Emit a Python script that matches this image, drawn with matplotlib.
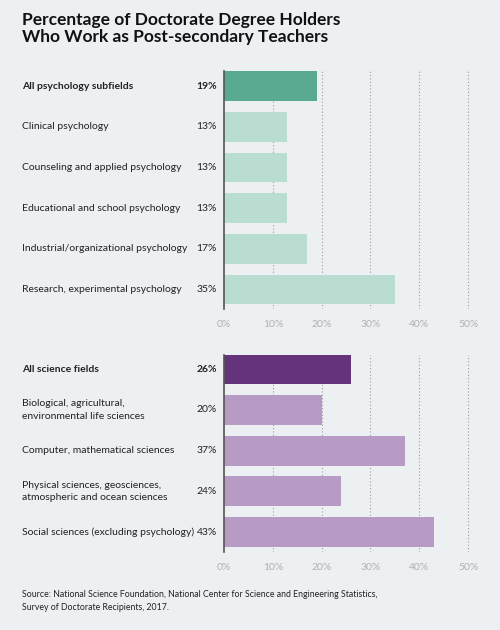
import matplotlib.pyplot as plt
import matplotlib.transforms as mtransforms

plt.rcParams['font.family'] = ['Lato', 'DejaVu Sans']

# data
psy_labels = ['All psychology subfields', 'Clinical psychology',
              'Counseling and applied psychology', 'Educational and school psychology',
              'Industrial/organizational psychology', 'Research, experimental psychology']
psy_values = [19, 13, 13, 13, 17, 35]

sci_labels = ['All science fields', 'Biological, agricultural,\nenvironmental life sciences',
              'Computer, mathematical sciences',
              'Physical sciences, geosciences,\natmospheric and ocean sciences',
              'Social sciences (excluding psychology)']
sci_values = [26, 20, 37, 24, 43]

ticks = [0, 10, 20, 30, 40, 50]
tick_labels = ['0%', '10%', '20%', '30%', '40%', '50%']

bg = '#edf0f3'
W, H = 500, 630
fig = plt.figure(figsize=(5, 6.3), dpi=100, facecolor=bg)


def px_axes(x0, y0, x1, y1):
    # pixel box (top-left origin) -> figure axes
    return fig.add_axes([x0 / W, 1 - y1 / H, (x1 - x0) / W, (y1 - y0) / H])


def panel(ax, labels, values, dark, light, ylo, yhi):
    n = len(values)
    pos = list(range(n))
    colors = [dark] + [light] * (n - 1)
    ax.set_facecolor('none')
    ax.set_xlim(0, 51)
    ax.set_ylim(yhi, ylo)
    for x in ticks[1:]:
        ax.axvline(x, color='#9a9a9a', lw=0.8, ls=(0, (1, 2)), zorder=0)
    ax.barh(pos, values, height=0.73, color=colors, zorder=2)
    for s in ['top', 'right', 'bottom']:
        ax.spines[s].set_visible(False)
    ax.spines['left'].set_color('#555555')
    ax.spines['left'].set_linewidth(1.2)
    ax.spines['left'].set_zorder(3)
    ax.set_yticks([])
    ax.set_xticks(ticks)
    ax.set_xticklabels(tick_labels, color='#b0b0b0', fontsize=7.5)
    ax.tick_params(axis='x', length=0, pad=8)
    trans = mtransforms.blended_transform_factory(fig.transFigure, ax.transData)
    for i, (lab, v) in enumerate(zip(labels, values)):
        w = 'bold' if i == 0 else 'normal'
        ax.text(22 / W, i, lab, transform=trans, ha='left', va='center',
                fontsize=7.5, fontweight=w, color='#222222', linespacing=1.5)
        ax.text(217 / W, i, f'{v}%', transform=trans, ha='right', va='center',
                fontsize=7.5, fontweight=w, color='#222222')


ax1 = px_axes(224, 71, 473, 309)
panel(ax1, psy_labels, psy_values, '#5aaa93', '#b9ddd0', -0.37, 5.48)

ax2 = px_axes(224, 355, 473, 552)
panel(ax2, sci_labels, sci_values, '#66337d', '#b89bc5', -0.35, 4.49)

fig.text(22 / W, 1 - 12 / H,
         'Percentage of Doctorate Degree Holders\nWho Work as Post-secondary Teachers',
         ha='left', va='top', fontsize=12.5, fontweight='bold', color='#111111',
         linespacing=1.05)

fig.text(22 / W, 1 - 590 / H,
         'Source: National Science Foundation, National Center for Science and Engineering Statistics,\n'
         'Survey of Doctorate Recipients, 2017.',
         ha='left', va='top', fontsize=6.3, color='#222222', linespacing=1.5)

fig.savefig('out.png', dpi=100, facecolor=bg)
